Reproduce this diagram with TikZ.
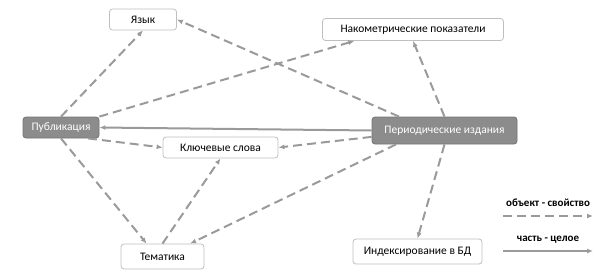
\documentclass[tikz,border=0pt]{standalone}
\usepackage{fontspec}
\setmainfont{Carlito}
\usetikzlibrary{positioning, arrows.meta, calc}

\definecolor{linkgray}{HTML}{9A9A9A}
\definecolor{boxgray}{HTML}{8C8C8C}

\begin{document}
\begin{tikzpicture}[x=1pt, y=-1pt,
  item/.style={draw=black!25, fill=white, rounded corners=3pt, line width=0.8pt,
    inner sep=0pt, font=\fontsize{11.5}{13}\selectfont},
  mainitem/.style={item, draw=black!55, fill=boxgray, text=white},
  prop/.style={draw=linkgray, line width=2pt, dash pattern=on 9pt off 5pt,
    -{Latex[length=6pt, width=5pt]}},
  part/.style={draw=linkgray, line width=2pt, -{Latex[length=6pt, width=5pt]}}]
  \useasboundingbox (0,0) rectangle (604,278);

  % Boxes
  \node[item, minimum width=67pt, minimum height=21pt] (yaz) at (143,19.5) {Язык};
  \node[item, minimum width=181pt, minimum height=22pt] (nak) at (413,29.5) {Накометрические показатели};
  \node[mainitem, minimum width=76pt, minimum height=21pt] (pub) at (61,127.5) {Публикация};
  \node[mainitem, minimum width=145pt, minimum height=27pt] (per) at (444.5,130.5) {Периодические издания};
  \node[item, minimum width=115pt, minimum height=21pt] (kl) at (220.5,147.5) {Ключевые слова};
  \node[item, minimum width=83pt, minimum height=25pt] (tem) at (162.5,256.5) {Тематика};
  \node[item, minimum width=129pt, minimum height=25pt] (ind) at (417.5,251.5) {Индексирование в БД};

  % Links of the publication
  \draw[prop] (pub.north) -- (yaz.south);
  \draw[prop] (pub.north east) -- (nak.191);
  \draw[prop] (pub.338) -- (kl.west);
  \draw[prop] (pub.south) -- (tem.141);

  % Links of the periodicals
  \draw[part] (per.west) -- (pub.east);
  \draw[prop] (per.163) -- (yaz.east);
  \draw[prop] (per.north) -- (nak.south);
  \draw[prop] (per.185) -- (kl.east);
  \draw[prop] (per.196) -- (tem.25);
  \draw[prop] (per.south) -- (ind.north);
  \draw[prop] (tem.north) -- (kl.south);

  % Legend
  \node[font=\fontsize{11}{13}\selectfont\bfseries] (legprop) at (548,203) {объект - свойство};
  \coordinate (propa) at (503,216);
  \coordinate (propb) at (593,216);
  \draw[prop] (propa) -- (propb);
  \node[font=\fontsize{11}{13}\selectfont\bfseries] (legpart) at (548,240) {часть - целое};
  \coordinate (parta) at (503,251);
  \coordinate (partb) at (593,251);
  \draw[part] (parta) -- (partb);
\end{tikzpicture}
\end{document}
